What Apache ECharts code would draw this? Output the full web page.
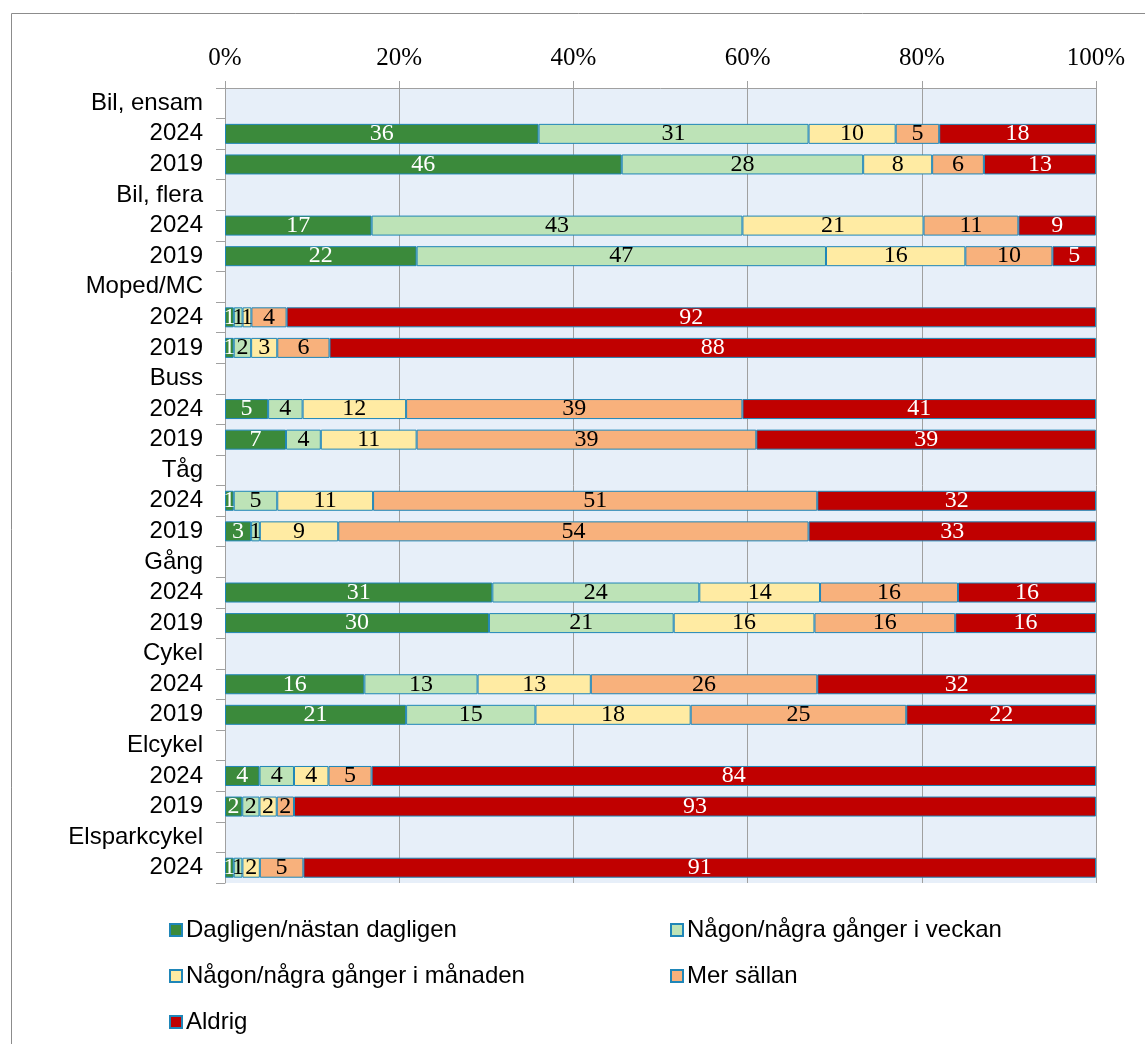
<!DOCTYPE html>
<html>
<head>
<meta charset="utf-8">
<script src="https://cdn.jsdelivr.net/npm/echarts@6/dist/echarts.min.js"></script>
<style>
	html,body{margin:0;padding:0;background:#fff;}
	#chart{width:1145px;height:1044px;}
</style>
</head>
<body>
<div id="chart"></div>
<script>
	// kategorier (rubrikrader saknar värden)
	var categories = ['Bil, ensam','2024','2019','Bil, flera','2024','2019','Moped/MC','2024','2019',
		'Buss','2024','2019','Tåg','2024','2019','Gång','2024','2019','Cykel','2024','2019',
		'Elcykel','2024','2019','Elsparkcykel','2024'];
	var seriesNames = ['Dagligen/nästan dagligen','Någon/några gånger i veckan','Någon/några gånger i månaden','Mer sällan','Aldrig'];
	var dagligen = [null,36,46,null,17,22,null,1,1,null,5,7,null,1,3,null,31,30,null,16,21,null,4,2,null,1];
	var veckan   = [null,31,28,null,43,47,null,1,2,null,4,4,null,5,1,null,24,21,null,13,15,null,4,2,null,1];
	var manaden  = [null,10,8,null,21,16,null,1,3,null,12,11,null,11,9,null,14,16,null,13,18,null,4,2,null,2];
	var sallan   = [null,5,6,null,11,10,null,4,6,null,39,39,null,51,54,null,16,16,null,26,25,null,5,2,null,5];
	var aldrig   = [null,18,13,null,9,5,null,92,88,null,41,39,null,32,33,null,16,16,null,32,22,null,84,93,null,91];
	var xTicks = [0,20,40,60,80,100];

	var colors = ['#3b8a3b','#bde3b7','#ffeba3','#f8b17c','#c00000'];
	var labelColors = ['#fff','#000','#000','#000','#fff'];
	var raw = [dagligen,veckan,manaden,sallan,aldrig];

	// radsummor för 100% stapel
	var sums = categories.map(function(c,i){
		var s = 0;
		raw.forEach(function(a){ if(a[i]!=null) s += a[i]; });
		return s;
	});

	var series = raw.map(function(arr,k){
		return {
			name: seriesNames[k],
			type: 'bar',
			stack: 'total',
			barWidth: 20,
			itemStyle: {color: colors[k], borderColor: '#1f86b8', borderWidth: 1},
			label: {
				show: true,
				position: 'inside',
				color: labelColors[k],
				fontFamily: 'Liberation Serif',
				fontSize: 24,
				formatter: function(p){ return p.data.raw; }
			},
			data: arr.map(function(v,i){
				return v==null ? {value:'-', raw:''} : {value: v/sums[i]*100, raw: v};
			})
		};
	});

	var legendPos = [[164,913],[665,913],[164,959],[665,959],[164,1005]];
	var legends = seriesNames.map(function(n,k){
		return {
			data:[n], left: legendPos[k][0], top: legendPos[k][1],
			itemWidth: 12, itemHeight: 12, itemGap: 0,
			icon: 'rect',
			textStyle: {fontFamily:'Liberation Sans', fontSize: 24, color:'#000', padding:[0,0,0,-1]},
			selectedMode: false
		};
	});

	var myChart = echarts.init(document.getElementById('chart'));
	var option = {
		animation: false,
		legend: legends,
		graphic: [{
			type:'rect', shape:{x:11.5,y:13.5,width:1200,height:1100},
			style:{fill:'none', stroke:'#8c8c8c', lineWidth:1}, silent:true
		}],
		grid: {left:225, right:49, top:88, bottom:161, show:true, backgroundColor:'#e7eff9', borderWidth:0},
		xAxis: {
			type:'value', position:'top', min:0, max:100, interval:20,
			axisLine:{show:true, lineStyle:{color:'#a0a0a0'}},
			axisTick:{show:true, length:7, lineStyle:{color:'#a0a0a0'}},
			splitLine:{show:true, lineStyle:{color:'#a0a0a0'}},
			axisLabel:{formatter:'{value}%', fontFamily:'Liberation Serif', fontSize:25, color:'#000', margin:17,
				customValues: xTicks}
		},
		yAxis: {
			type:'category', inverse:true, data: categories,
			axisLine:{show:true, lineStyle:{color:'#a0a0a0'}},
			axisTick:{show:true, length:9, lineStyle:{color:'#a0a0a0'}},
			axisLabel:{fontFamily:'Liberation Sans', fontSize:24, color:'#000', margin:22, interval:0}
		},
		series: series
	};
	myChart.setOption(option);
</script>
</body>
</html>
